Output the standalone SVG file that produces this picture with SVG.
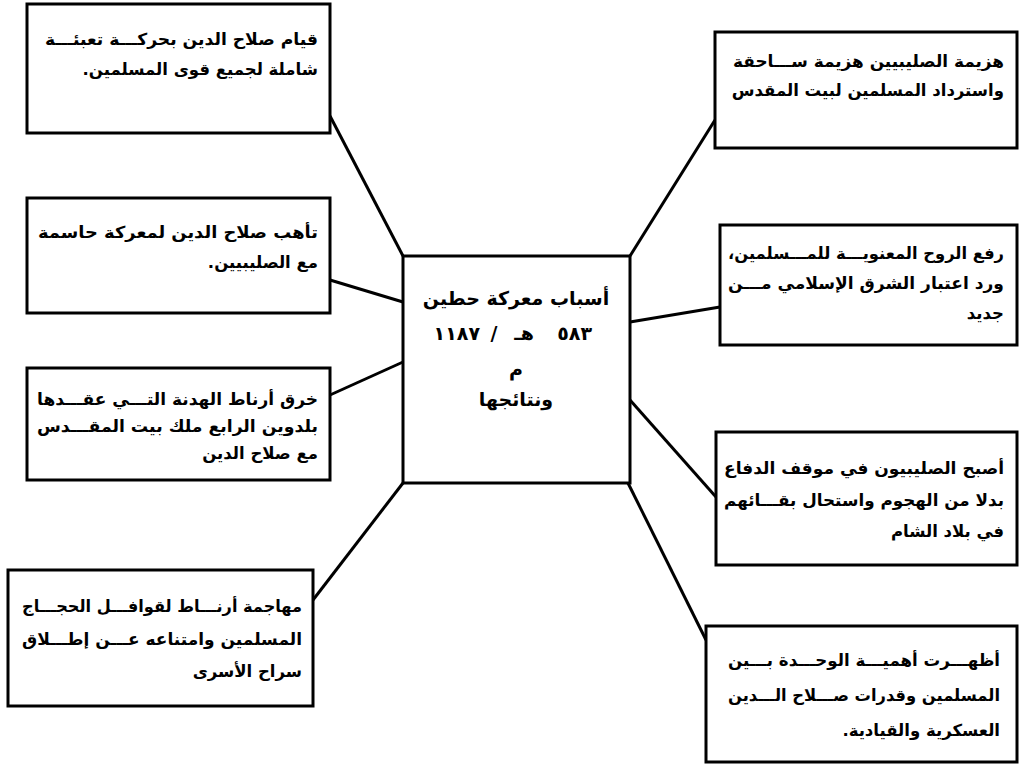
<svg xmlns="http://www.w3.org/2000/svg" width="1024" height="765" viewBox="0 0 1024 765">
<style>
.box{fill:#fff;stroke:#000;stroke-width:3}
.t{font-family:"DejaVu Sans","Noto Sans",sans-serif;font-weight:bold;font-size:16.5px;fill:#000;direction:rtl;text-anchor:start}
.c{font-family:"DejaVu Sans","Noto Sans",sans-serif;font-weight:bold;font-size:19px;fill:#000}
.r{direction:rtl;text-anchor:middle}
.ln{stroke:#000;stroke-width:3;fill:none}
</style>
<rect width="1024" height="765" fill="#fff"/>
<g id="connectors">
<line class="ln" x1="330" y1="116" x2="403" y2="256"/>
<line class="ln" x1="330" y1="280" x2="403" y2="302"/>
<line class="ln" x1="330" y1="395" x2="403" y2="362"/>
<line class="ln" x1="313" y1="600" x2="403" y2="483"/>
<line class="ln" x1="715" y1="120" x2="630" y2="256"/>
<line class="ln" x1="720" y1="307" x2="630" y2="322"/>
<line class="ln" x1="630" y1="400" x2="716" y2="497"/>
<line class="ln" x1="628" y1="483" x2="706" y2="640"/>
</g>
<g id="center">
<rect class="box" x="403" y="256" width="227" height="227"/>
<text class="c r" x="516" y="305">أسباب معركة حطين</text>
<text class="c" x="480" y="340" text-anchor="end">١١٨٧</text>
<text class="c" x="494" y="340" text-anchor="middle">/</text>
<text class="c" x="534" y="340" text-anchor="end">هـ</text>
<text class="c" x="592" y="340" text-anchor="end">٥٨٣</text>
<text class="c r" x="516" y="376">م</text>
<text class="c r" x="516" y="406">ونتائجها</text>
</g>
<g id="cause1">
<rect class="box" x="27" y="4" width="303" height="129"/>
<text class="t" x="318" y="45" textLength="273" lengthAdjust="spacingAndGlyphs">قيام صلاح الدين بحركـــة تعبئـــة</text>
<text class="t" x="318" y="75">شاملة لجميع قوى المسلمين.</text>
</g>
<g id="cause2">
<rect class="box" x="27" y="198" width="303" height="115"/>
<text class="t" x="318" y="238" textLength="280" lengthAdjust="spacingAndGlyphs">تأهب صلاح الدين لمعركة حاسمة</text>
<text class="t" x="318" y="268">مع الصليبيين.</text>
</g>
<g id="cause3">
<rect class="box" x="27" y="368" width="303" height="112"/>
<text class="t" x="318" y="405" textLength="281" lengthAdjust="spacingAndGlyphs">خرق أرناط الهدنة التـــي عقـــدها</text>
<text class="t" x="318" y="432" textLength="281" lengthAdjust="spacingAndGlyphs">بلدوين الرابع ملك بيت المقـــدس</text>
<text class="t" x="318" y="459">مع صلاح الدين</text>
</g>
<g id="cause4">
<rect class="box" x="8" y="570" width="305" height="136"/>
<text class="t" x="302" y="612" textLength="280" lengthAdjust="spacingAndGlyphs">مهاجمة أرنـــاط لقوافـــل الحجـــاج</text>
<text class="t" x="302" y="645" textLength="280" lengthAdjust="spacingAndGlyphs">المسلمين وامتناعه عـــن إطـــلاق</text>
<text class="t" x="302" y="677">سراح الأسرى</text>
</g>
<g id="result1">
<rect class="box" x="715" y="32" width="302" height="116"/>
<text class="t" x="1004" y="67" textLength="271" lengthAdjust="spacingAndGlyphs">هزيمة الصليبيين هزيمة ســـاحقة</text>
<text class="t" x="1004" y="96">واسترداد المسلمين لبيت المقدس</text>
</g>
<g id="result2">
<rect class="box" x="720" y="225" width="297" height="120"/>
<text class="t" x="1004" y="259" textLength="276" lengthAdjust="spacingAndGlyphs">رفع الروح المعنويـــة للمـــسلمين،</text>
<text class="t" x="1004" y="289" textLength="276" lengthAdjust="spacingAndGlyphs">ورد اعتبار الشرق الإسلامي مـــن</text>
<text class="t" x="1004" y="319">جديد</text>
</g>
<g id="result3">
<rect class="box" x="716" y="432" width="301" height="133"/>
<text class="t" x="1004" y="474" textLength="280" lengthAdjust="spacingAndGlyphs">أصبح الصليبيون في موقف الدفاع</text>
<text class="t" x="1004" y="506" textLength="280" lengthAdjust="spacingAndGlyphs">بدلا من الهجوم واستحال بقـــائهم</text>
<text class="t" x="1004" y="537">في بلاد الشام</text>
</g>
<g id="result4">
<rect class="box" x="706" y="626" width="311" height="136"/>
<text class="t" x="1000" y="666" textLength="272" lengthAdjust="spacingAndGlyphs">أظهـــرت أهميـــة الوحـــدة بـــين</text>
<text class="t" x="1000" y="701" textLength="272" lengthAdjust="spacingAndGlyphs">المسلمين وقدرات صـــلاح الـــدين</text>
<text class="t" x="1000" y="736">العسكرية والقيادية.</text>
</g>
</svg>
